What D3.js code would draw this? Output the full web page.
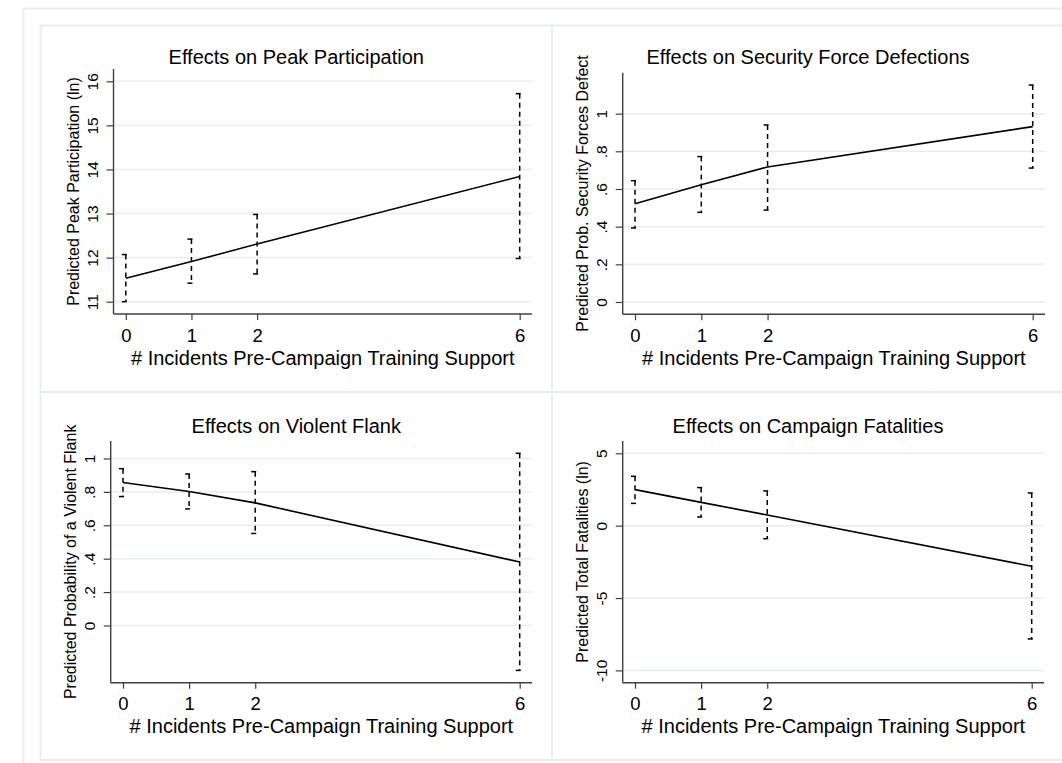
<!DOCTYPE html>
<html>
<head>
<meta charset="utf-8">
<script src="https://cdn.jsdelivr.net/npm/d3@7"></script>
<style>
  html, body { margin: 0; padding: 0; background: #ffffff; }
  svg { display: block; }
  text { font-family: "Liberation Sans", Arial, Helvetica, sans-serif; fill: #000; }
</style>
</head>
<body>
<svg id="chart" width="1062" height="763"></svg>
<script>
// Shared x values: number of incidents of pre-campaign training support
const incidents = [0, 1, 2, 6];
const incidentTickLabels = ["0", "1", "2", "6"];
const xAxisTitle = "# Incidents Pre-Campaign Training Support";

// Peak participation (ln)
const participationEst = [11.53, 11.91, 12.31, 13.84];
const participationLo  = [11.00, 11.42, 11.63, 11.98];
const participationHi  = [12.07, 12.42, 12.98, 15.72];
const participationTicks = [11, 12, 13, 14, 15, 16];
const participationTickLabels = ["11", "12", "13", "14", "15", "16"];

// Probability that security forces defect
const defectionEst = [0.522, 0.623, 0.717, 0.931];
const defectionLo  = [0.393, 0.476, 0.488, 0.711];
const defectionHi  = [0.644, 0.772, 0.940, 1.152];
const defectionTicks = [0, 0.2, 0.4, 0.6, 0.8, 1];
const defectionTickLabels = ["0", ".2", ".4", ".6", ".8", "1"];

// Probability of a violent flank
const flankEst = [0.856, 0.802, 0.734, 0.380];
const flankLo  = [0.772, 0.698, 0.551, -0.269];
const flankHi  = [0.939, 0.907, 0.921, 1.031];
const flankTicks = [0, 0.2, 0.4, 0.6, 0.8, 1];
const flankTickLabels = ["0", ".2", ".4", ".6", ".8", "1"];

// Total fatalities (ln)
const fatalityEst = [2.49, 1.61, 0.74, -2.81];
const fatalityLo  = [1.54, 0.60, -0.90, -7.83];
const fatalityHi  = [3.41, 2.63, 2.40, 2.26];
const fatalityTicks = [-10, -5, 0, 5];
const fatalityTickLabels = ["-10", "-5", "0", "5"];

const panelTitles = [
  "Effects on Peak Participation",
  "Effects on Security Force Defections",
  "Effects on Violent Flank",
  "Effects on Campaign Fatalities"
];
const yAxisTitles = [
  "Predicted Peak Participation (ln)",
  "Predicted Prob. Security Forces Defect",
  "Predicted Probability of a Violent Flank",
  "Predicted Total Fatalities (ln)"
];

const panels = [
  { title: panelTitles[0], ytitle: yAxisTitles[0], est: participationEst, lo: participationLo, hi: participationHi, ticks: participationTicks, tickLabels: participationTickLabels,
    box: [40.5, 25.5, 552, 392], axis: { left: 113.5, top: 69, bottom: 314, right: 532 }, titleY: 56.5 },
  { title: panelTitles[1], ytitle: yAxisTitles[1], est: defectionEst, lo: defectionLo, hi: defectionHi, ticks: defectionTicks, tickLabels: defectionTickLabels,
    box: [552, 25.5, 1064, 392], axis: { left: 622.7, top: 72.7, bottom: 314.3, right: 1045 }, titleY: 57.3 },
  { title: panelTitles[2], ytitle: yAxisTitles[2], est: flankEst, lo: flankLo, hi: flankHi, ticks: flankTicks, tickLabels: flankTickLabels,
    box: [40.5, 392, 552, 760], axis: { left: 110.7, top: 441, bottom: 682.7, right: 532 }, titleY: 425.7 },
  { title: panelTitles[3], ytitle: yAxisTitles[3], est: fatalityEst, lo: fatalityLo, hi: fatalityHi, ticks: fatalityTicks, tickLabels: fatalityTickLabels,
    box: [552, 392, 1064, 760], axis: { left: 622.7, top: 441, bottom: 682.7, right: 1044 }, titleY: 425.7 }
];

const frameColor = "#e6eef0";
const gridColor = "#e6eef0";
const axisColor = "#404040";
const regionMargin = 12.3;   // inner plot-region margin around the data range
const dash = "5,4";

const svg = d3.select("#chart");

// Outer graph frame
svg.append("rect")
  .attr("x", 23.5).attr("y", 8.5)
  .attr("width", 1100).attr("height", 800)
  .attr("fill", "#fff")
  .attr("stroke", frameColor).attr("stroke-width", 2);

panels.forEach(p => {
  const [bx0, by0, bx1, by1] = p.box;
  svg.append("rect")
    .attr("x", bx0).attr("y", by0)
    .attr("width", bx1 - bx0).attr("height", by1 - by0)
    .attr("fill", "#fff")
    .attr("stroke", frameColor).attr("stroke-width", 2);
});

panels.forEach(p => {
  const a = p.axis;
  const g = svg.append("g");

  const x = d3.scaleLinear()
    .domain(d3.extent(incidents))
    .range([a.left + regionMargin, a.right - regionMargin]);

  const yExtent = d3.extent([...p.ticks, ...p.lo, ...p.hi]);
  const y = d3.scaleLinear()
    .domain(yExtent)
    .range([a.bottom - regionMargin, a.top + regionMargin]);

  // Horizontal gridlines
  g.append("g").selectAll("line")
    .data(p.ticks)
    .join("line")
      .attr("x1", a.left).attr("x2", a.right)
      .attr("y1", d => y(d)).attr("y2", d => y(d))
      .attr("stroke", gridColor).attr("stroke-width", 1.5);

  // Y axis (labels rotated, as in the original layout)
  const yAxis = d3.axisLeft(y)
    .tickValues(p.ticks)
    .tickFormat((d, i) => p.tickLabels[i])
    .tickSize(7)
    .tickPadding(0);
  const yg = g.append("g")
    .attr("transform", `translate(${a.left},0)`)
    .call(yAxis);
  yg.select(".domain").remove();
  yg.selectAll(".tick line").attr("stroke", axisColor).attr("stroke-width", 1.2);
  yg.selectAll(".tick text")
    .attr("x", null).attr("dy", null)
    .attr("transform", "translate(-21,0) rotate(-90)")
    .attr("text-anchor", "middle")
    .attr("dominant-baseline", "central")
    .style("font-size", "15.5px")
    .style("font-family", "'Liberation Sans', Arial, sans-serif")
    .attr("fill", "#000");
  g.append("line")
    .attr("x1", a.left).attr("x2", a.left)
    .attr("y1", a.top).attr("y2", a.bottom)
    .attr("stroke", axisColor).attr("stroke-width", 1.4);

  // X axis
  const xAxis = d3.axisBottom(x)
    .tickValues(incidents)
    .tickFormat((d, i) => incidentTickLabels[i])
    .tickSize(6)
    .tickPadding(0);
  const xg = g.append("g")
    .attr("transform", `translate(0,${a.bottom})`)
    .call(xAxis);
  xg.select(".domain").remove();
  xg.selectAll(".tick line").attr("stroke", axisColor).attr("stroke-width", 1.2);
  xg.selectAll(".tick text")
    .attr("y", 21).attr("dy", null)
    .attr("dominant-baseline", "central")
    .style("font-size", "18.5px")
    .style("font-family", "'Liberation Sans', Arial, sans-serif")
    .attr("fill", "#000");
  g.append("line")
    .attr("x1", a.left).attr("x2", a.right)
    .attr("y1", a.bottom).attr("y2", a.bottom)
    .attr("stroke", axisColor).attr("stroke-width", 1.4);

  // Confidence intervals: dashed capped spikes
  const ci = g.append("g").attr("fill", "none").attr("stroke", "#000")
    .attr("stroke-width", 1.5).attr("stroke-dasharray", dash);
  incidents.forEach((xv, i) => {
    ci.append("line")
      .attr("x1", x(xv)).attr("x2", x(xv))
      .attr("y1", y(p.hi[i])).attr("y2", y(p.lo[i]));
    [p.hi[i], p.lo[i]].forEach(v => {
      ci.append("line")
        .attr("x1", x(xv) - 4).attr("x2", x(xv) + 4)
        .attr("y1", y(v)).attr("y2", y(v));
    });
  });

  // Point-estimate line
  const line = d3.line()
    .x((d, i) => x(incidents[i]))
    .y(d => y(d));
  g.append("path")
    .datum(p.est)
    .attr("d", line)
    .attr("fill", "none")
    .attr("stroke", "#000")
    .attr("stroke-width", 1.6);

  // Titles
  g.append("text")
    .attr("x", (p.box[0] + p.box[2]) / 2)
    .attr("y", p.titleY)
    .attr("text-anchor", "middle")
    .attr("dominant-baseline", "central")
    .style("font-size", "20px")
    .text(p.title);

  g.append("text")
    .attr("transform", `translate(${a.left - 39.8},${(a.top + a.bottom) / 2}) rotate(-90)`)
    .attr("text-anchor", "middle")
    .attr("dominant-baseline", "central")
    .style("font-size", "16px")
    .text(p.ytitle);

  g.append("text")
    .attr("x", (a.left + a.right) / 2)
    .attr("y", a.bottom + 43.5)
    .attr("text-anchor", "middle")
    .attr("dominant-baseline", "central")
    .style("font-size", "20px")
    .text(xAxisTitle);
});
</script>
</body>
</html>
